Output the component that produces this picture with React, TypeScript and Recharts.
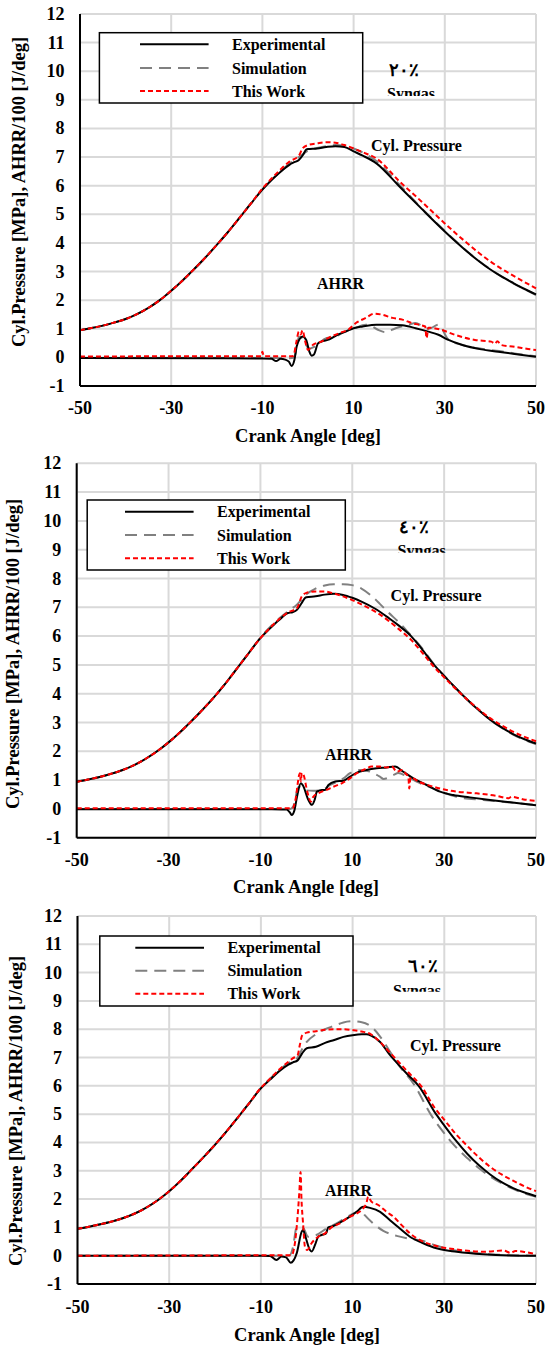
import { CartesianGrid, Line, LineChart, XAxis, YAxis } from "recharts";

type Pt = [number, number];

const xTicks = [-50, -30, -10, 10, 30, 50];
const yTicks = [-1, 0, 1, 2, 3, 4, 5, 6, 7, 8, 9, 10, 11, 12];
const seriesNames = ["Experimental", "Simulation", "This Work"];
const syngasShares = ["٢٠٪", "٤٠٪", "٦٠٪"];

// 20% syngas
const p20Compression: Pt[] = [[-50, 0.95], [-47.5, 1.025], [-45, 1.11], [-42.5, 1.22], [-40, 1.34], [-37.5, 1.51], [-35, 1.73], [-32.5, 2.0], [-30, 2.33], [-27.5, 2.69], [-25, 3.08], [-22.5, 3.49], [-20, 3.93], [-17.5, 4.39], [-15, 4.88], [-12.5, 5.38]];
const p20ExpPressure: Pt[] = [...p20Compression, [-10, 5.86], [-8, 6.2], [-6, 6.49], [-4, 6.74], [-3, 6.82], [-2, 6.9], [-1, 7.1], [-0.4, 7.26], [0, 7.28], [2, 7.3], [4, 7.35], [6, 7.38], [8, 7.35], [10, 7.2], [12, 7.05], [15, 6.78], [20, 5.98], [25, 5.18], [30, 4.4], [32.5, 4.03], [35, 3.68], [37.5, 3.36], [40, 3.07], [42.5, 2.82], [45, 2.6], [47.5, 2.39], [50, 2.2]];
const p20SimPressure: Pt[] = [...p20Compression, [-10, 5.87], [-6, 6.5], [-4, 6.78], [-2, 7.0], [0, 7.22], [2, 7.32], [4, 7.38], [6, 7.42], [8, 7.4], [10, 7.3], [12, 7.16], [15, 6.86], [20, 6.04], [25, 5.2], [30, 4.42], [32.5, 4.05], [35, 3.69], [37.5, 3.37], [40, 3.08], [42.5, 2.82], [45, 2.59], [47.5, 2.38], [50, 2.18]];
const p20WorkPressure: Pt[] = [...p20Compression, [-10, 5.9], [-8, 6.25], [-6, 6.57], [-4, 6.85], [-2, 7.05], [-1.2, 7.3], [0, 7.42], [2, 7.48], [4, 7.52], [6, 7.5], [8, 7.42], [10, 7.3], [12, 7.17], [15, 6.95], [20, 6.16], [25, 5.43], [30, 4.68], [32.5, 4.32], [35, 3.98], [37.5, 3.65], [40, 3.35], [42.5, 3.09], [45, 2.86], [47.5, 2.63], [50, 2.41]];
const p20ExpAhrr: Pt[] = [[-50, -0.02], [-20, -0.03], [-10, -0.04], [-8, -0.05], [-7, -0.13], [-6, -0.05], [-5, -0.08], [-4.2, -0.15], [-3.6, -0.3], [-3, -0.1], [-2.5, 0.37], [-1.8, 0.65], [-1.2, 0.73], [-0.4, 0.61], [0.3, 0.2], [0.8, 0.06], [1.3, 0.1], [2.2, 0.49], [2.9, 0.55], [4.7, 0.63], [6.5, 0.79], [8.3, 0.9], [10, 1.02], [12, 1.08], [15, 1.14], [18, 1.14], [20.7, 1.12], [23.6, 1.02], [26.4, 0.9], [28.6, 0.79], [30.8, 0.61], [33.7, 0.44], [38, 0.28], [41.7, 0.2], [45.3, 0.12], [50, 0.02]];
const p20SimAhrr: Pt[] = [[-50, -0.02], [-10, -0.02], [-4, -0.03], [-3, 0.0], [-2.5, 0.3], [-2, 0.73], [-1.3, 0.68], [0.3, 0.3], [1.5, 0.38], [4, 0.67], [6, 0.72], [8, 0.9], [10, 1.0], [12.7, 1.14], [14.1, 1.08], [15.5, 0.95], [17, 0.88], [19.2, 1.02], [22, 1.14], [23.6, 1.2], [25, 1.1], [26.5, 1.0], [28.6, 1.14], [30.8, 0.62], [33.7, 0.44], [38, 0.3], [42, 0.22], [46, 0.12], [50, 0.04]];
const p20WorkAhrr: Pt[] = [[-50, 0.03], [-20, 0.04], [-10.3, 0.04], [-10, 0.2], [-9.7, 0.04], [-4, 0.04], [-3.2, 0.05], [-2.6, 0.5], [-2, 0.9], [-1.6, 0.8], [-1.2, 0.95], [-0.6, 0.55], [0, 0.26], [1.1, 0.44], [2.9, 0.55], [4.7, 0.7], [6.9, 0.85], [9, 0.99], [10.5, 1.2], [12.7, 1.38], [14.5, 1.53], [16.3, 1.49], [18.5, 1.38], [20.7, 1.32], [22.8, 1.2], [24.3, 1.14], [25.7, 1.08], [26, 0.67], [26.4, 1.04], [29.3, 0.96], [32.2, 0.79], [36.6, 0.61], [40.2, 0.55], [41, 0.48], [41.5, 0.56], [42.4, 0.43], [45.3, 0.37], [48.9, 0.28], [50, 0.26]];

// 40% syngas
const p40Compression: Pt[] = [[-50, 0.94], [-47.5, 1.02], [-45, 1.11], [-42.5, 1.22], [-40, 1.35], [-37.5, 1.52], [-35, 1.74], [-32.5, 2.0], [-30, 2.31], [-27.5, 2.66], [-25, 3.05], [-22.5, 3.46], [-20, 3.9], [-17.5, 4.38], [-15, 4.9], [-12.5, 5.42]];
const p40ExpPressure: Pt[] = [...p40Compression, [-10, 5.93], [-8, 6.25], [-6, 6.55], [-4, 6.8], [-3, 6.83], [-2, 6.92], [-1, 7.15], [-0.3, 7.32], [0, 7.35], [2, 7.38], [4, 7.44], [6, 7.47], [8, 7.43], [10, 7.33], [12, 7.2], [15, 6.95], [18, 6.62], [20, 6.38], [22.8, 6.0], [25, 5.58], [27.8, 5.0], [30, 4.62], [32.5, 4.2], [35, 3.8], [37.5, 3.43], [40, 3.1], [42.5, 2.83], [45, 2.6], [47.5, 2.42], [50, 2.27]];
const p40SimPressure: Pt[] = [...p40Compression, [-10, 5.95], [-8, 6.3], [-6, 6.6], [-4, 6.86], [-2, 7.1], [0, 7.45], [2, 7.65], [4, 7.76], [6, 7.8], [8, 7.8], [10, 7.77], [12, 7.65], [14, 7.42], [16, 7.12], [18, 6.8], [20, 6.5], [22, 6.16], [25, 5.62], [27.8, 5.02], [30, 4.63], [32.5, 4.2], [35, 3.8], [37.5, 3.43], [40, 3.1], [42.5, 2.82], [45, 2.58], [47.5, 2.4], [50, 2.25]];
const p40WorkPressure: Pt[] = [...p40Compression, [-10, 5.93], [-8, 6.27], [-6, 6.58], [-4, 6.82], [-2, 6.98], [-1, 7.38], [0, 7.5], [2, 7.55], [4, 7.55], [6, 7.48], [8, 7.38], [10, 7.25], [12, 7.1], [15, 6.85], [18, 6.52], [20, 6.26], [22.8, 5.87], [25, 5.47], [27.8, 4.93], [30, 4.57], [32.5, 4.17], [35, 3.8], [37.5, 3.46], [40, 3.15], [42.5, 2.9], [45, 2.68], [47.5, 2.5], [50, 2.35]];
const p40ExpAhrr: Pt[] = [[-50, -0.01], [-20, -0.01], [-10, -0.01], [-5, -0.02], [-4.3, -0.02], [-3.6, -0.12], [-3.2, -0.21], [-2.6, -0.05], [-2.0, 0.45], [-1.2, 0.89], [-0.8, 0.83], [0.45, 0.31], [1.2, 0.14], [1.8, 0.31], [2.3, 0.6], [3.4, 0.66], [4.1, 0.66], [4.8, 0.83], [6.3, 0.95], [8.1, 0.98], [9.5, 1.12], [11, 1.26], [13.1, 1.35], [15.3, 1.41], [17.5, 1.44], [19.3, 1.47], [21.1, 1.29], [23.3, 1.06], [26.2, 0.83], [29.1, 0.6], [32, 0.48], [35.6, 0.4], [40, 0.31], [44.4, 0.23], [50, 0.13]];
const p40SimAhrr: Pt[] = [[-50, 0], [-10, 0], [-3.5, 0.0], [-2.8, 0.1], [-1.7, 0.77], [-0.3, 0.65], [1.5, 0.63], [3.4, 0.66], [5.2, 0.83], [8.1, 1.06], [9.5, 1.24], [11.7, 1.35], [13.9, 1.29], [16, 1.12], [16.8, 1.04], [19, 1.18], [20, 1.25], [21.9, 1.12], [24, 0.95], [28.4, 0.66], [32.7, 0.42], [38.5, 0.31], [44.4, 0.22], [50, 0.14]];
const p40WorkAhrr: Pt[] = [[-50, 0.02], [-20, 0.02], [-5, 0.02], [-3, 0.02], [-2.4, 0.3], [-1.4, 1.24], [-1.2, 0.95], [-1, 1.25], [-0.6, 1.18], [0.2, 0.6], [1, 0.25], [1.5, 0.42], [2.6, 0.54], [4.4, 0.66], [5.9, 0.77], [7.7, 0.89], [9.5, 1.06], [11, 1.24], [12.8, 1.38], [14.2, 1.47], [16, 1.47], [17.5, 1.44], [18.6, 1.47], [19.7, 1.29], [20.8, 1.35], [21.9, 1.18], [22.2, 1.14], [22.4, 0.71], [22.7, 1.1], [24.4, 0.95], [27, 0.8], [29.8, 0.68], [32.7, 0.6], [37.1, 0.54], [41.5, 0.45], [44, 0.37], [44.7, 0.42], [47.3, 0.33], [50, 0.28]];

// 60% syngas
const p60Compression: Pt[] = [[-50, 0.95], [-47.5, 1.025], [-45, 1.11], [-42.5, 1.21], [-40, 1.33], [-37.5, 1.49], [-35, 1.7], [-32.5, 1.96], [-30, 2.28], [-27.5, 2.65], [-25, 3.06], [-22.5, 3.48], [-20, 3.92], [-17.5, 4.39], [-15, 4.89], [-12.5, 5.4]];
const p60ExpPressure: Pt[] = [...p60Compression, [-10, 5.91], [-8, 6.22], [-6, 6.52], [-4, 6.75], [-3, 6.83], [-2, 6.9], [-1, 7.15], [0, 7.33], [2, 7.38], [4, 7.52], [6, 7.62], [8, 7.73], [10, 7.79], [12, 7.82], [13, 7.82], [14, 7.78], [16, 7.55], [18, 7.12], [20, 6.75], [22, 6.4], [24.4, 6.0], [28.2, 5.0], [30, 4.6], [32.5, 4.07], [35, 3.6], [37.5, 3.2], [40, 2.87], [42.5, 2.6], [45, 2.39], [47.5, 2.23], [50, 2.1]];
const p60SimPressure: Pt[] = [...p60Compression, [-10, 5.93], [-8, 6.25], [-6, 6.56], [-4, 6.8], [-2, 7.0], [-1, 7.3], [0, 7.55], [2, 7.82], [4, 8.0], [6, 8.12], [8, 8.24], [10, 8.28], [12, 8.25], [14, 8.1], [16, 7.74], [18, 7.25], [20, 6.75], [23.6, 6.0], [27, 5.0], [29.3, 4.47], [31.6, 4.0], [35, 3.45], [37.5, 3.1], [40, 2.8], [42.5, 2.56], [45, 2.36], [47.5, 2.2], [50, 2.08]];
const p60WorkPressure: Pt[] = [...p60Compression, [-10, 5.93], [-8, 6.25], [-6, 6.58], [-4, 6.85], [-3, 6.98], [-2, 7.08], [-1.5, 7.45], [-1, 7.78], [0, 7.88], [2, 7.93], [4, 7.98], [6, 8.0], [8, 8.0], [10, 7.97], [12, 7.92], [14, 7.82], [16, 7.55], [18, 7.2], [20, 6.85], [22, 6.5], [25, 5.98], [28, 5.2], [30, 4.8], [32.5, 4.3], [35, 3.88], [37.5, 3.48], [40, 3.14], [42.5, 2.87], [45, 2.65], [47.5, 2.45], [50, 2.28]];
const p60ExpAhrr: Pt[] = [[-50, 0], [-20, 0], [-10, 0], [-8, -0.01], [-6.6, -0.15], [-5.5, -0.03], [-4.5, -0.06], [-3.5, -0.25], [-2.2, 0.08], [-1.1, 0.85], [-0.8, 0.91], [-0.3, 0.68], [0.7, 0.2], [1.1, 0.15], [1.8, 0.38], [2.5, 0.67], [3.2, 0.73], [4.2, 0.79], [4.7, 1.0], [5.8, 1.05], [7.6, 1.2], [9.4, 1.38], [10.9, 1.55], [12.3, 1.73], [13.8, 1.69], [16, 1.55], [18.1, 1.26], [20.3, 0.96], [22.5, 0.67], [25.4, 0.44], [28.3, 0.26], [32.7, 0.14], [38.5, 0.05], [44.3, 0.01], [50, 0]];
const p60SimAhrr: Pt[] = [[-50, 0], [-10, 0], [-3.8, 0], [-3, 0.3], [-2.2, 1.0], [-0.8, 0.98], [0.3, 0.67], [2.1, 0.73], [4.3, 0.96], [6.5, 1.14], [8.3, 1.32], [10.5, 1.52], [11.8, 1.6], [12.6, 1.44], [14.5, 1.14], [16.7, 0.88], [19.6, 0.7], [22.5, 0.6], [25.4, 0.52], [28.3, 0.35], [30, 0.27], [35, 0.13], [42, 0.03], [50, 0]];
const p60WorkAhrr: Pt[] = [[-50, 0.0], [-20, 0.01], [-10, 0.02], [-3.3, 0.02], [-2.2, 1.0], [-1.6, 2.3], [-1.35, 2.96], [-1.15, 2.0], [-0.8, 1.14], [-0.4, 0.32], [0.1, 0.2], [1.05, 0.44], [2.5, 0.67], [4, 0.79], [5.4, 1.0], [7.2, 1.14], [9.05, 1.35], [10.9, 1.49], [12.3, 1.67], [13, 1.85], [13.4, 2.08], [14.1, 1.91], [15.6, 1.79], [17.4, 1.55], [18.9, 1.38], [20.7, 1.08], [22.5, 0.79], [24.7, 0.55], [28.3, 0.34], [32.7, 0.22], [38.5, 0.14], [42.9, 0.18], [44.5, 0.1], [45.5, 0.17], [47.2, 0.14], [50, 0.05]];

const serif = "'Liberation Serif', 'Times New Roman', serif";
const textStyle = { fontFamily: serif, fontWeight: 700 };

const seriesStyle = [
  { stroke: "#000000", dash: undefined as string | undefined },
  { stroke: "#808080", dash: "12 7" },
  { stroke: "#ff0000", dash: "5 3" },
];

const toRows = (pts: Pt[]) => pts.map(([a, v]) => ({ a, v }));

const panels = [
  {
    id: "p20", top: 0, height: 450, axisX: 80, plotTop: 14, plotBottom: 386, xTickDy: 28,
    series: [[p20ExpPressure, p20ExpAhrr], [p20SimPressure, p20SimAhrr], [p20WorkPressure, p20WorkAhrr]],
    legend: { x: 99.4, y: 32.7, w: 263.3, h: 70.3, rows: [44.3, 68, 91], x1: 140, x2: 208.6, tx: 232 },
    share: { x: 389, y: 75.5 }, syngas: { x: 387, y: 99, clip: 96 },
    cyl: { x: 371, y: 151 }, ahrr: { x: 317, y: 288.5 },
    yTitle: { x: 24.6, y: 192 }, xTitle: { x: 308, y: 441.6 },
  },
  {
    id: "p40", top: 450, height: 450, axisX: 76.7, plotTop: 13.3, plotBottom: 387.7, xTickDy: 28,
    series: [[p40ExpPressure, p40ExpAhrr], [p40SimPressure, p40SimAhrr], [p40WorkPressure, p40WorkAhrr]],
    legend: { x: 87.2, y: 50, w: 258.1, h: 70, rows: [61.7, 85, 108.3], x1: 125, x2: 193.6, tx: 217 },
    share: { x: 399, y: 83 }, syngas: { x: 397.6, y: 105.6, clip: 102.7 },
    cyl: { x: 390.6, y: 151 }, ahrr: { x: 325, y: 309.5 },
    yTitle: { x: 18.6, y: 204 }, xTitle: { x: 306, y: 442.6 },
  },
  {
    id: "p60", top: 900, height: 449, axisX: 77.5, plotTop: 16, plotBottom: 384, xTickDy: 29,
    series: [[p60ExpPressure, p60ExpAhrr], [p60SimPressure, p60SimAhrr], [p60WorkPressure, p60WorkAhrr]],
    legend: { x: 99.8, y: 36, w: 253.2, h: 70, rows: [47.7, 70.7, 93.7], x1: 135.3, x2: 204, tx: 227.4 },
    share: { x: 408, y: 71.5 }, syngas: { x: 393, y: 95.6, clip: 91.7 },
    cyl: { x: 410, y: 151 }, ahrr: { x: 325, y: 295.5 },
    yTitle: { x: 21.6, y: 211 }, xTitle: { x: 307, y: 441.3 },
  },
];

type PanelCfg = (typeof panels)[number];

const Panel = ({ cfg, share }: { cfg: PanelCfg; share: string }) => {
  const drawOrder = [1, 0, 2];
  return (
    <div style={{ position: "absolute", left: 0, top: cfg.top, width: 547, height: cfg.height }}>
      <LineChart width={547} height={cfg.height} margin={{ top: cfg.plotTop, right: 11, bottom: 0, left: 0 }}>
        <CartesianGrid stroke="#d9d9d9" strokeWidth={2} />
        <XAxis
          type="number"
          dataKey="a"
          domain={[-50, 50]}
          ticks={xTicks}
          interval={0}
          height={cfg.height - cfg.plotBottom}
          tickSize={0}
          tickMargin={0}
          tickLine={false}
          axisLine={{ stroke: "#000", strokeWidth: 2 }}
          tick={(p: any) => (
            <text x={p.x} y={p.y + cfg.xTickDy} textAnchor="middle" fontFamily={serif} fontWeight="bold" fontSize={18} fill="#000" style={textStyle}>
              {p.payload.value}
            </text>
          )}
        />
        <YAxis
          type="number"
          domain={[-1, 12]}
          ticks={yTicks}
          interval={0}
          width={cfg.axisX}
          tickSize={0}
          tickMargin={0}
          tickLine={false}
          axisLine={{ stroke: "#000", strokeWidth: 2 }}
          tick={(p: any) => (
            <text x={p.x - 15.5} y={p.y + 6} textAnchor="end" fontFamily={serif} fontWeight="bold" fontSize={18} fill="#000" style={textStyle}>
              {p.payload.value}
            </text>
          )}
        />
        {drawOrder.map((si) =>
          cfg.series[si].map((pts, ci) => (
            <Line
              key={`${si}-${ci}`}
              data={toRows(pts)}
              dataKey="v"
              type="monotone"
              stroke={seriesStyle[si].stroke}
              strokeDasharray={seriesStyle[si].dash}
              strokeWidth={2}
              dot={false}
              activeDot={false}
              isAnimationActive={false}
            />
          ))
        )}
      </LineChart>
      <svg width={547} height={cfg.height} style={{ position: "absolute", left: 0, top: 0, pointerEvents: "none" }}>
        <defs>
          <clipPath id={`${cfg.id}-clip`}>
            <rect x={cfg.syngas.x - 5} y={cfg.syngas.y - 20} width={90} height={cfg.syngas.clip - cfg.syngas.y + 20} />
          </clipPath>
        </defs>
        <g fontFamily={serif} fontWeight="bold" fill="#000" style={textStyle}>
          <rect x={cfg.legend.x} y={cfg.legend.y} width={cfg.legend.w} height={cfg.legend.h} fill="#fff" stroke="#000" strokeWidth={1.5} />
          {seriesNames.map((name, i) => (
            <g key={name}>
              <line
                x1={cfg.legend.x1}
                x2={cfg.legend.x2}
                y1={cfg.legend.rows[i]}
                y2={cfg.legend.rows[i]}
                stroke={seriesStyle[i].stroke}
                strokeDasharray={seriesStyle[i].dash}
                strokeWidth={2}
              />
              <text x={cfg.legend.tx} y={cfg.legend.rows[i] + 5.5} fontSize={16}>
                {name}
              </text>
            </g>
          ))}
          <text x={cfg.share.x} y={cfg.share.y} fontSize={18}>{share}</text>
          <text x={cfg.syngas.x} y={cfg.syngas.y} fontSize={16} clipPath={`url(#${cfg.id}-clip)`}>Syngas</text>
          <text x={cfg.cyl.x} y={cfg.cyl.y} fontSize={16}>Cyl. Pressure</text>
          <text x={cfg.ahrr.x} y={cfg.ahrr.y} fontSize={16}>AHRR</text>
          <text x={cfg.xTitle.x} y={cfg.xTitle.y} fontSize={18.5} textAnchor="middle">Crank Angle [deg]</text>
          <text transform={`translate(${cfg.yTitle.x},${cfg.yTitle.y}) rotate(-90)`} fontSize={18.5} textAnchor="middle">
            Cyl.Pressure [MPa], AHRR/100 [J/deg]
          </text>
        </g>
      </svg>
    </div>
  );
};

export default function App() {
  return (
    <div style={{ position: "absolute", left: 0, top: 0, width: 547, height: 1349, background: "#fff" }}>
      {panels.map((cfg, i) => (
        <Panel key={cfg.id} cfg={cfg} share={syngasShares[i]} />
      ))}
    </div>
  );
}
